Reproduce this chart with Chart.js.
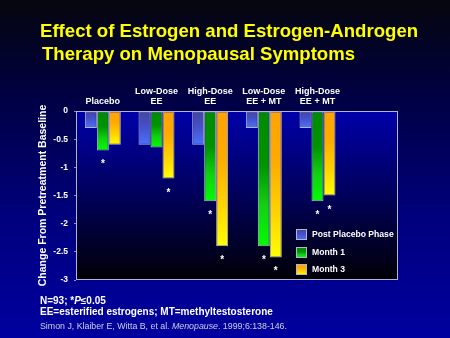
<!DOCTYPE html>
<html><head><meta charset="utf-8">
<script src="https://cdn.jsdelivr.net/npm/chart.js@4/dist/chart.umd.min.js"></script>
<style>html,body{margin:0;padding:0;background:#000;}canvas{display:block}</style>
</head><body>
<canvas id="c" width="450" height="338"></canvas>
<script>
// ---- data ----
const categories = ['Placebo', ['Low-Dose','EE'], ['High-Dose','EE'], ['Low-Dose','EE + MT'], ['High-Dose','EE + MT'], ''];
const seriesNames = ['Post Placebo Phase', 'Month 1', 'Month 3'];
const postPlacebo = [-0.3, -0.6, -0.6, -0.3, -0.3, null];
const month1 = [-0.7, -0.65, -1.6, -2.4, -1.6, null];
const month3 = [-0.6, -1.2, -2.4, -2.6, -1.5, null];
const sigPostPlacebo = [false, false, false, false, false, false];
const sigMonth1 = [true, false, true, true, true, false];
const sigMonth3 = [false, true, true, true, true, false];
const yTicks = [0, -0.5, -1, -1.5, -2, -2.5, -3];
const titleLines = ['Effect of Estrogen and Estrogen-Androgen', 'Therapy on Menopausal Symptoms'];
const yTitle = 'Change From Pretreatment Baseline';
const citation = ['Simon J, Klaiber E, Witta B, et al. ', 'Menopause', '. 1999;6:138-146.'];

const FONT = "'Liberation Sans', Arial, Helvetica, sans-serif";
Chart.defaults.font.family = FONT;

const blueStops = [[0,'#44449a'],[0.45,'#4550c8'],[1,'#4a72ff']];
const greenStops = [[0,'#008a00'],[0.4,'#009400'],[0.7,'#12d012'],[1,'#00ff00']];
const orangeStops = [[0,'#ffa300'],[0.35,'#ffab00'],[0.7,'#ffd400'],[1,'#ffff00']];

function barGrad(stops) {
  return (c) => {
    const chart = c.chart;
    if (!chart.chartArea || !chart.scales.y || c.raw == null) return stops[stops.length-1][1];
    const ys = chart.scales.y;
    const y0 = ys.getPixelForValue(0), y1 = ys.getPixelForValue(c.raw);
    if (Math.abs(y1 - y0) < 1) return stops[0][1];
    const g = chart.ctx.createLinearGradient(0, y0, 0, y1);
    stops.forEach(s => g.addColorStop(s[0], s[1]));
    return g;
  };
}

const sigs = [sigPostPlacebo, sigMonth1, sigMonth3];
const stopSets = [blueStops, greenStops, orangeStops];

const decor = {
  id: 'decor',
  beforeDraw(chart) {
    const ctx = chart.ctx, W = chart.width, H = chart.height, a = chart.chartArea;
    ctx.save();
    let g = ctx.createLinearGradient(0, 0, 0, H);
    g.addColorStop(0, '#06060e');
    g.addColorStop(0.3, '#000046');
    g.addColorStop(0.65, '#00007e');
    g.addColorStop(1, '#0000a0');
    ctx.fillStyle = g;
    ctx.fillRect(0, 0, W, H);
    g = ctx.createLinearGradient(0, a.top, 0, a.bottom);
    g.addColorStop(0, '#0000aa');
    g.addColorStop(0.5, '#00005a');
    g.addColorStop(1, '#000006');
    ctx.fillStyle = g;
    ctx.fillRect(a.left, a.top, a.right - a.left, a.bottom - a.top);
    ctx.restore();
  },
  afterDatasetsDraw(chart) {
    const ctx = chart.ctx, a = chart.chartArea;
    ctx.save();
    ctx.strokeStyle = '#b4b4cc';
    ctx.lineWidth = 1;
    ctx.strokeRect(Math.round(a.left) + 0.5, Math.round(a.top) + 0.5, Math.round(a.right - a.left) - 1, Math.round(a.bottom - a.top) - 1);
    // significance asterisks
    ctx.fillStyle = '#ffffff';
    ctx.font = 'bold 10px ' + FONT;
    ctx.textAlign = 'center';
    ctx.textBaseline = 'alphabetic';
    sigs.forEach((sig, i) => {
      const meta = chart.getDatasetMeta(i);
      sig.forEach((s, j) => {
        if (!s) return;
        const bar = meta.data[j];
        ctx.fillText('*', bar.x, bar.y + 17);
      });
    });
    // legend
    const lx = 296, ly = [229, 247, 264], bs = 11;
    ctx.textAlign = 'left';
    ctx.textBaseline = 'middle';
    ctx.font = 'bold 8.6px ' + FONT;
    seriesNames.forEach((n, i) => {
      const y = ly[i];
      const gg = ctx.createLinearGradient(0, y, 0, y + bs);
      stopSets[i].forEach(s => gg.addColorStop(s[0], s[1]));
      ctx.fillStyle = gg;
      ctx.fillRect(lx, y, bs, bs);
      ctx.strokeStyle = '#b4b4cc';
      ctx.strokeRect(lx + 0.5, y + 0.5, bs - 1, bs - 1);
      ctx.fillStyle = '#ffffff';
      ctx.fillText(n, lx + 16, y + bs / 2 + 0.5);
    });
    ctx.restore();
  },
  afterDraw(chart) {
    const ctx = chart.ctx;
    ctx.save();
    ctx.textAlign = 'left';
    ctx.textBaseline = 'alphabetic';
    ctx.fillStyle = '#ffff00';
    ctx.font = 'bold 18.6px ' + FONT;
    ctx.fillText(titleLines[0], 40, 37);
    ctx.fillText(titleLines[1], 42, 60);
    // footnotes
    ctx.fillStyle = '#ffffff';
    let x = 40;
    const seg = (t, f, y) => { ctx.font = f; ctx.fillText(t, x, y); x += ctx.measureText(t).width; };
    seg('N=93; *', 'bold 10px ' + FONT, 304);
    seg('P', 'italic bold 10px ' + FONT, 304);
    seg('\u22640.05', 'bold 10px ' + FONT, 304);
    ctx.font = 'bold 10px ' + FONT;
    ctx.fillText('EE=esterified estrogens; MT=methyltestosterone', 40, 315);
    ctx.fillStyle = '#d0d0e2';
    x = 40;
    seg(citation[0], '8.8px ' + FONT, 329);
    seg(citation[1], 'italic 8.8px ' + FONT, 329);
    seg(citation[2], '8.8px ' + FONT, 329);
    ctx.restore();
  }
};

new Chart(document.getElementById('c'), {
  type: 'bar',
  data: {
    labels: categories,
    datasets: [
      { label: seriesNames[0], data: postPlacebo, backgroundColor: barGrad(blueStops) },
      { label: seriesNames[1], data: month1, backgroundColor: barGrad(greenStops) },
      { label: seriesNames[2], data: month3, backgroundColor: barGrad(orangeStops) }
    ]
  },
  options: {
    responsive: false,
    animation: false,
    devicePixelRatio: 1,
    layout: { padding: { left: 0, top: 71, right: 52, bottom: 58 } },
    datasets: { bar: { borderColor: '#b4b4cc', borderWidth: 1, barPercentage: 1, categoryPercentage: 0.67, borderSkipped: false } },
    plugins: { legend: { display: false }, title: { display: false }, tooltip: { enabled: false } },
    scales: {
      x: {
        position: 'top',
        grid: { display: false, drawTicks: false },
        border: { display: false },
        ticks: { color: '#ffffff', font: { size: 9, weight: 'bold', lineHeight: 1.12 }, padding: 4.5, maxRotation: 0, autoSkip: false },
        afterFit: s => { s.height = 40; }
      },
      y: {
        min: -3, max: 0,
        afterBuildTicks: s => { s.ticks = yTicks.map(v => ({ value: v })); },
        grid: { drawOnChartArea: false, drawTicks: true, tickLength: 2, color: '#9090b0' },
        border: { display: false },
        ticks: { color: '#ffffff', font: { size: 8.5, weight: 'bold' }, padding: 6, callback: v => String(v) },
        title: { display: true, text: yTitle, color: '#ffffff', font: { size: 10.5, weight: 'bold', lineHeight: 1.2 }, padding: { top: 37, bottom: 0 } },
        afterFit: s => { s.width = 76; }
      }
    }
  },
  plugins: [decor]
});
</script>
</body></html>
